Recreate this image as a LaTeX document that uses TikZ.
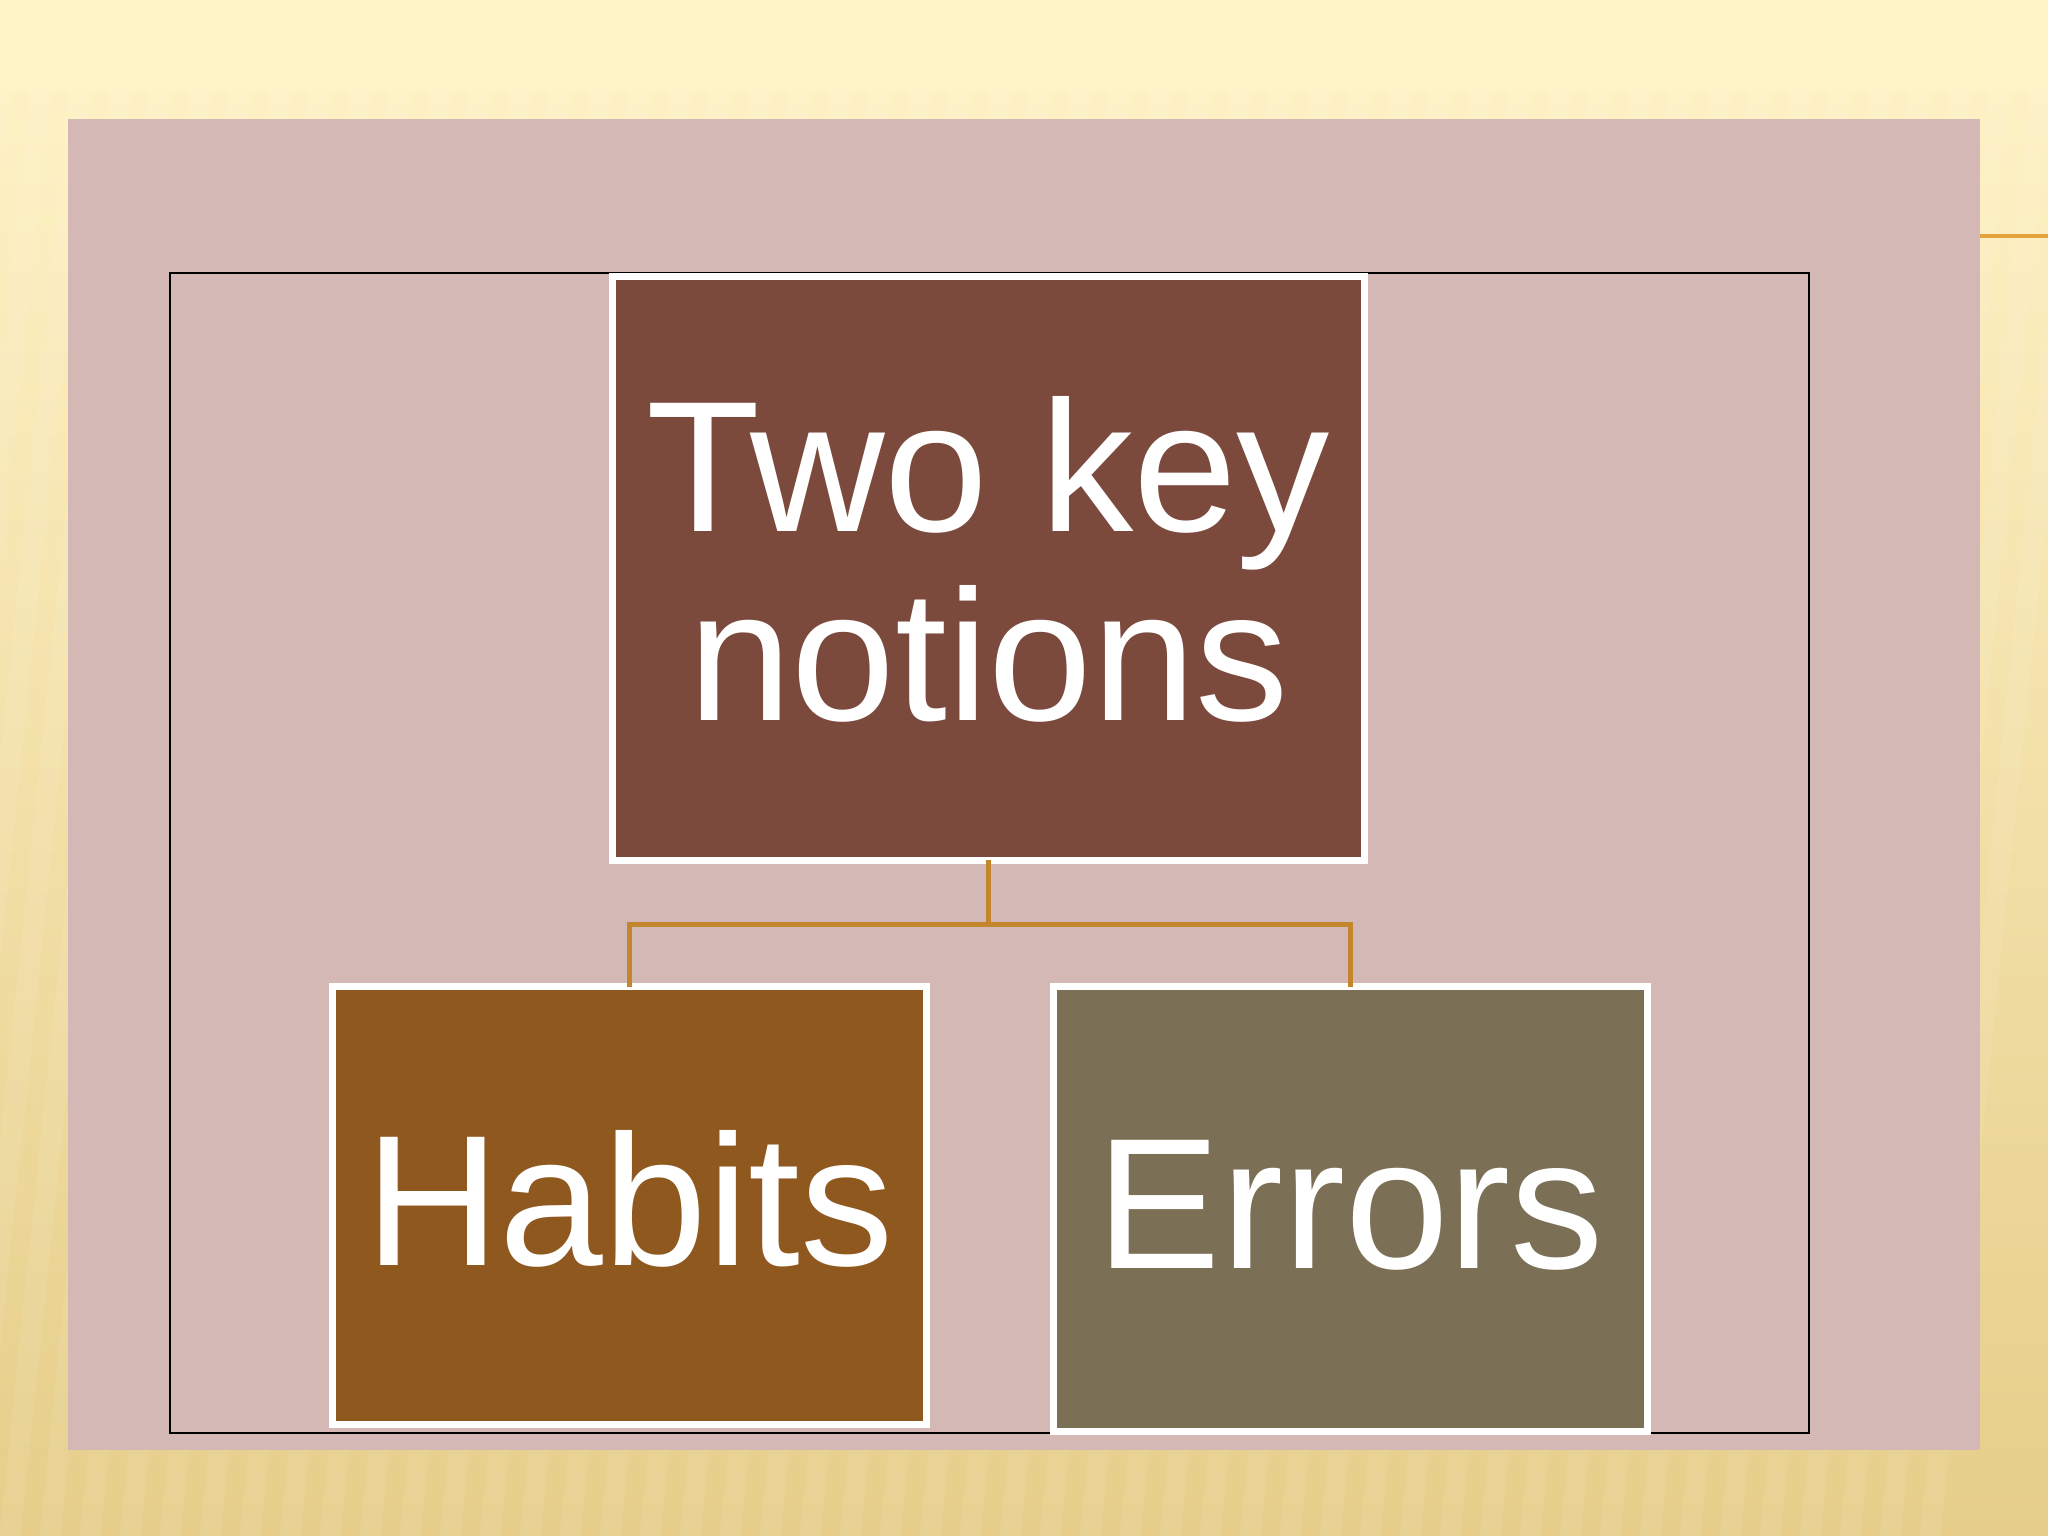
\documentclass[tikz,border=0pt]{standalone}
\usepackage{fontspec}
\setmainfont{Liberation Sans}
\usepackage{tikz}

\definecolor{panelpink}{HTML}{D4B8B5}
\definecolor{topbrown}{HTML}{7B4A3D}
\definecolor{habitbrown}{HTML}{8F581E}
\definecolor{errorolive}{HTML}{7B7055}
\definecolor{linkgold}{HTML}{C4862C}
\definecolor{rulegold}{HTML}{E3A33A}
\definecolor{bgtop}{HTML}{FFF3C8}
\definecolor{bgmid}{HTML}{F6E2A8}
\definecolor{bgbot}{HTML}{E6CE8A}

\tikzset{
  notionbox/.style={draw=white, line width=2pt, outer sep=0pt, inner sep=0pt,
    text=white, align=center, font=\fontsize{53}{54}\selectfont},
  link/.style={draw=linkgold, line width=1.4pt}
}

\begin{document}
\begin{tikzpicture}[x=0.01cm, y=-0.01cm]
\useasboundingbox (0,0) rectangle (2048,1536);
\shade[top color=bgtop, middle color=bgmid, bottom color=bgbot] (0,0) rectangle (2048,1536);
\fill[bgtop] (0,0) rectangle (2048,90);
\foreach \i in {0,40,...,2100}
  \draw[white, opacity=0.08, line width=6pt] (\i-150,1536) -- (\i,90);
\draw[rulegold, line width=1.2pt] (1980,236) -- (2048,236);

\fill[panelpink] (68,119) rectangle (1980,1450);
\draw[black, line width=0.6pt] (170,273) rectangle (1809,1433);

\node[notionbox, fill=topbrown, minimum width=7.51cm, minimum height=5.83cm,
  text depth=0.2cm] (top) at (988.5,568.5) {Two key\\notions};
\node[notionbox, fill=habitbrown, minimum width=5.93cm, minimum height=4.37cm,
  text depth=0.16cm] (habits) at (629.5,1205.5) {Habits};
\node[notionbox, fill=errorolive, minimum width=5.93cm, minimum height=4.44cm,
  text depth=0.1cm] (errors) at (1350.5,1209) {Errors};

\draw[link] (top.south) -- ++(0,64) coordinate (bus);
\draw[link] (habits.north) |- (bus) -| (errors.north);
\end{tikzpicture}
\end{document}
